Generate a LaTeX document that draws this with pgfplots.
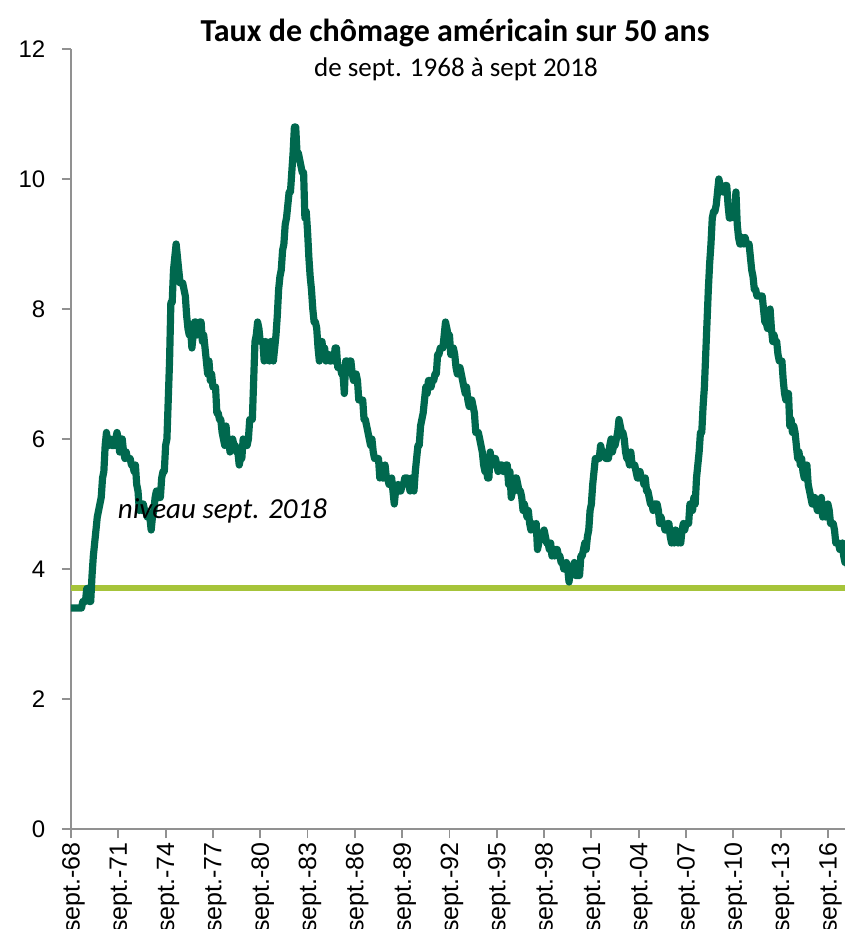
\documentclass[border=0pt]{standalone}
\usepackage{pgfplots}
\usepackage{pgfplotstable}
\pgfplotsset{compat=1.18}
\usepackage{fontspec}
\setmainfont{Carlito}
\newfontfamily\arialfont{Liberation Sans}
\definecolor{dkgreen}{RGB}{0,104,78}
\definecolor{ltgreen}{RGB}{166,196,58}
\definecolor{axgray}{RGB}{145,145,145}

\pgfplotstableread{
y
3.4
3.4
3.4
3.4
3.4
3.4
3.4
3.4
3.4
3.5
3.5
3.5
3.7
3.7
3.5
3.5
3.9
4.2
4.4
4.6
4.8
4.9
5.0
5.1
5.4
5.5
5.9
6.1
5.9
5.9
6.0
5.9
5.9
5.9
6.0
6.1
6.0
5.8
6.0
6.0
5.8
5.7
5.8
5.7
5.7
5.7
5.6
5.6
5.5
5.6
5.3
5.2
4.9
5.0
4.9
5.0
4.9
4.9
4.8
4.8
4.8
4.6
4.8
4.9
5.1
5.2
5.1
5.1
5.1
5.4
5.5
5.5
5.9
6.0
6.6
7.2
8.1
8.1
8.6
8.8
9.0
8.8
8.6
8.4
8.4
8.4
8.3
8.2
7.9
7.7
7.6
7.7
7.4
7.6
7.8
7.8
7.6
7.7
7.8
7.8
7.5
7.6
7.4
7.2
7.0
7.2
6.9
7.0
6.8
6.8
6.8
6.4
6.4
6.3
6.3
6.1
6.0
5.9
6.2
5.9
6.0
5.8
5.9
6.0
5.9
5.9
5.8
5.8
5.6
5.7
5.7
6.0
5.9
6.0
5.9
6.0
6.3
6.3
6.3
6.9
7.5
7.6
7.8
7.7
7.5
7.5
7.5
7.2
7.5
7.4
7.4
7.2
7.5
7.5
7.2
7.4
7.6
7.9
8.3
8.5
8.6
8.9
9.0
9.3
9.4
9.6
9.8
9.8
10.1
10.4
10.8
10.8
10.4
10.4
10.3
10.2
10.1
10.1
9.4
9.5
9.2
8.8
8.5
8.3
8.0
7.8
7.8
7.7
7.4
7.2
7.5
7.5
7.3
7.4
7.2
7.3
7.3
7.2
7.2
7.3
7.2
7.4
7.4
7.1
7.1
7.1
7.0
7.0
6.7
7.2
7.2
7.1
7.2
7.2
7.0
6.9
7.0
7.0
6.9
6.6
6.6
6.6
6.6
6.3
6.3
6.2
6.1
6.0
5.9
6.0
5.8
5.7
5.7
5.7
5.7
5.4
5.6
5.4
5.4
5.6
5.4
5.4
5.3
5.3
5.4
5.2
5.0
5.2
5.2
5.3
5.2
5.2
5.3
5.3
5.4
5.4
5.4
5.3
5.2
5.4
5.4
5.2
5.5
5.7
5.9
5.9
6.2
6.3
6.4
6.6
6.8
6.7
6.9
6.9
6.8
6.9
6.9
7.0
7.0
7.3
7.3
7.4
7.4
7.4
7.6
7.8
7.7
7.6
7.6
7.3
7.4
7.4
7.3
7.1
7.0
7.1
7.1
7.0
6.9
6.8
6.7
6.8
6.6
6.5
6.6
6.6
6.5
6.4
6.1
6.1
6.1
6.0
5.9
5.8
5.6
5.5
5.6
5.4
5.4
5.8
5.6
5.6
5.7
5.7
5.6
5.5
5.6
5.6
5.6
5.5
5.5
5.6
5.6
5.3
5.5
5.1
5.2
5.2
5.4
5.4
5.3
5.2
5.2
5.1
4.9
5.0
4.9
4.8
4.9
4.7
4.6
4.7
4.6
4.6
4.7
4.3
4.4
4.5
4.5
4.5
4.6
4.5
4.4
4.4
4.3
4.4
4.2
4.3
4.2
4.3
4.3
4.2
4.2
4.1
4.1
4.0
4.0
4.1
4.0
3.8
4.0
4.0
4.0
4.1
3.9
3.9
3.9
3.9
4.2
4.2
4.3
4.4
4.3
4.5
4.6
4.9
5.0
5.3
5.5
5.7
5.7
5.7
5.7
5.9
5.8
5.8
5.8
5.7
5.7
5.7
5.9
6.0
5.8
5.9
5.9
6.0
6.1
6.3
6.2
6.1
6.1
6.0
5.8
5.7
5.7
5.6
5.8
5.6
5.6
5.6
5.5
5.4
5.4
5.5
5.4
5.4
5.3
5.4
5.2
5.2
5.1
5.0
5.0
4.9
5.0
5.0
5.0
4.9
4.7
4.8
4.7
4.7
4.6
4.6
4.7
4.7
4.5
4.4
4.5
4.4
4.6
4.5
4.4
4.5
4.4
4.6
4.7
4.6
4.7
4.7
4.7
5.0
5.0
4.9
5.1
5.0
5.4
5.6
5.8
6.1
6.1
6.5
6.8
7.3
7.8
8.3
8.7
9.0
9.4
9.5
9.5
9.6
9.8
10.0
9.9
9.9
9.8
9.8
9.9
9.9
9.6
9.4
9.4
9.5
9.5
9.4
9.8
9.3
9.1
9.0
9.0
9.1
9.0
9.1
9.0
9.0
9.0
8.8
8.6
8.5
8.3
8.3
8.2
8.2
8.2
8.2
8.2
8.0
7.8
7.8
7.7
7.9
8.0
7.7
7.5
7.6
7.5
7.5
7.3
7.2
7.2
7.2
6.9
6.7
6.6
6.7
6.7
6.2
6.3
6.1
6.2
6.1
5.9
5.7
5.8
5.6
5.7
5.5
5.4
5.4
5.6
5.3
5.2
5.1
5.0
5.0
5.1
5.0
4.9
4.9
5.0
5.1
4.8
4.9
4.8
4.9
5.0
4.9
4.7
4.7
4.7
4.6
4.4
4.4
4.4
4.3
4.3
4.4
4.2
4.1
4.2
4.1
4.0
4.1
4.0
4.0
3.8
4.0
3.9
3.8
3.7
}\unrate

\begin{document}
\begin{tikzpicture}
\begin{axis}[
  scale only axis, width=774pt, height=780pt,
  xmin=0, xmax=589, ymin=0, ymax=12,
  axis lines=left,
  axis line style={-, draw=axgray, line width=1.8pt},
  tick style={draw=axgray, line width=1.8pt},
  major tick length=9pt, tick align=outside,
  xtick={0,36,...,576},
  xticklabels={sept.-68,sept.-71,sept.-74,sept.-77,sept.-80,sept.-83,sept.-86,sept.-89,sept.-92,sept.-95,sept.-98,sept.-01,sept.-04,sept.-07,sept.-10,sept.-13,sept.-16},
  ytick={0,2,...,12},
  /pgf/number format/assume math mode=true,
  x tick label style={font=\arialfont\fontsize{25}{25}\selectfont, anchor=east, inner sep=0pt, xshift=2.5pt, yshift=-4pt, rotate=90},
  y tick label style={font=\arialfont\fontsize{24}{24}\selectfont, anchor=east, inner sep=0pt, xshift=-16.5pt},
  clip=true,
]
\addplot[ltgreen, line width=6pt] coordinates {(0,3.7) (600,3.7)};
\addplot[dkgreen, line width=7.2pt, line join=round, line cap=round] table[x expr=\coordindex, y index=0] {\unrate};
\node[anchor=base west, font=\itshape\fontsize{29}{29}\selectfont] at (axis cs:33,4.78) {niveau sept. 2018};
\end{axis}
\node[anchor=base, font=\bfseries\fontsize{32}{32}\selectfont] at (384pt,787pt) {Taux de chômage américain sur 50 ans};
\node[anchor=base, font=\fontsize{27}{27}\selectfont] at (385pt,752pt) {de sept. 1968 à sept 2018};
\pgfresetboundingbox
\path[use as bounding box] (-71pt,-100pt) rectangle (774pt,829pt);
\end{tikzpicture}
\end{document}
